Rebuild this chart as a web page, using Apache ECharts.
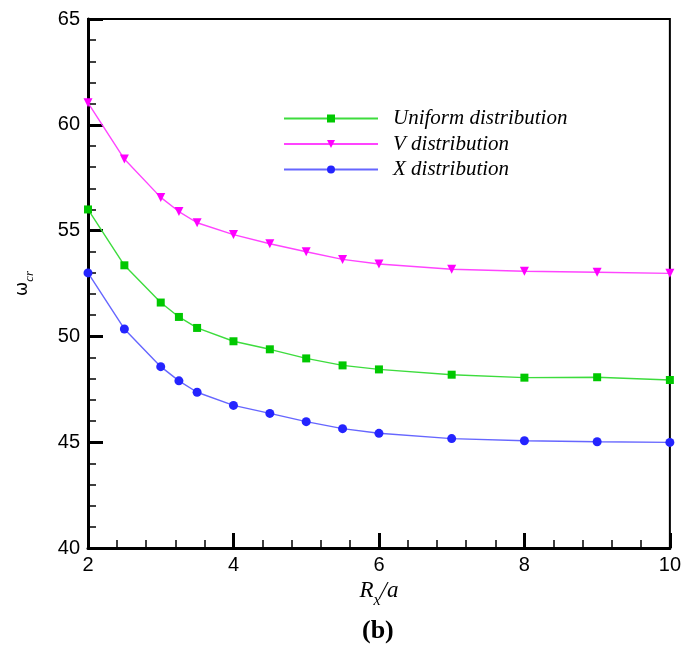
<!DOCTYPE html>
<html>
<head>
<meta charset="utf-8">
<script src="https://cdn.jsdelivr.net/npm/echarts@6/dist/echarts.min.js"></script>
<style>
html,body{margin:0;padding:0;background:#fff;}
#main{width:684px;height:653px;}
</style>
</head>
<body>
<div id="main"></div>
<script>
var xValues = [2, 2.5, 3, 3.25, 3.5, 4, 4.5, 5, 5.5, 6, 7, 8, 9, 10];
var uniformValues = [56.0, 53.36, 51.6, 50.92, 50.4, 49.77, 49.39, 48.96, 48.63, 48.44, 48.19, 48.05, 48.07, 47.94];
var vValues = [61.04, 58.38, 56.57, 55.9, 55.37, 54.81, 54.38, 54.0, 53.64, 53.42, 53.17, 53.08, 53.03, 52.98];
var xDistValues = [53.0, 50.35, 48.57, 47.9, 47.36, 46.74, 46.36, 45.97, 45.64, 45.42, 45.17, 45.07, 45.02, 44.99];
var seriesNames = ['Uniform distribution', 'V distribution', 'X distribution'];

function pairs(ys){ return xValues.map(function(x,i){ return [x, ys[i]]; }); }

var chart = echarts.init(document.getElementById('main'), null, {renderer:'canvas'});
var axisFont = 'Liberation Sans, Arial, sans-serif';
var serif = 'Liberation Serif, Times New Roman, serif';
chart.setOption({
  animation:false,
  backgroundColor:'#fff',
  grid:{left:88, top:19, right:12, bottom:105, show:true, borderColor:'#000', borderWidth:2, backgroundColor:'transparent'},
  legend:{
    orient:'vertical', left:278, top:103, itemWidth:94, itemHeight:10, itemGap:4.5,
    data:seriesNames,
    textStyle:{fontFamily:serif, fontStyle:'italic', fontSize:21, color:'#000', padding:[0,0,0,10]}
  },
  xAxis:{
    type:'value', min:2, max:10, interval:2,
    axisLine:{show:true, lineStyle:{color:'#000', width:3}},
    axisTick:{show:true, inside:true, length:15, lineStyle:{color:'#000', width:3}},
    minorTick:{show:true, splitNumber:5, length:8, lineStyle:{color:'#000', width:1.5}},
    splitLine:{show:false},
    axisLabel:{fontFamily:axisFont, fontSize:20, color:'#000', margin:7},
    name:'{r|R}{s|x}{a|/a}', nameLocation:'middle', nameGap:25,
    nameTextStyle:{rich:{
      r:{fontFamily:serif, fontStyle:'italic', fontSize:23, color:'#000', verticalAlign:'bottom', lineHeight:22},
      s:{fontFamily:serif, fontStyle:'italic', fontSize:16, color:'#000', verticalAlign:'bottom', lineHeight:14, padding:[0,0,-6,0]},
      a:{fontFamily:serif, fontStyle:'italic', fontSize:23, color:'#000', verticalAlign:'bottom', lineHeight:22}
    }}
  },
  yAxis:{
    type:'value', min:40, max:65, interval:5,
    axisLine:{show:true, lineStyle:{color:'#000', width:3}},
    axisTick:{show:true, inside:true, length:15, lineStyle:{color:'#000', width:3}},
    minorTick:{show:true, splitNumber:5, length:8, lineStyle:{color:'#000', width:1.5}},
    splitLine:{show:false},
    axisLabel:{fontFamily:axisFont, fontSize:20, color:'#000', margin:8},
    name:'{w|ω}{s|cr}', nameLocation:'middle', nameGap:57, nameRotate:90,
    nameTextStyle:{rich:{
      w:{fontFamily:'DejaVu Sans, sans-serif', fontSize:17, color:'#000', verticalAlign:'bottom', lineHeight:18},
      s:{fontFamily:serif, fontStyle:'italic', fontSize:13, color:'#000', verticalAlign:'bottom', lineHeight:12, padding:[0,0,-5,0]}
    }}
  },
  graphic:[{type:'text', left:362, top:618, style:{text:'(b)', fontFamily:serif, fontWeight:'bold', fontSize:26, fill:'#000'}}],
  series:[
    {name:seriesNames[0], type:'line', data:pairs(uniformValues), symbol:'rect', symbolSize:8,
     itemStyle:{color:'#00c800'}, lineStyle:{color:'#3ddc3d', width:1.4}, clip:false, z:3},
    {name:seriesNames[1], type:'line', data:pairs(vValues), symbol:'triangle', symbolRotate:180, symbolSize:9,
     itemStyle:{color:'#ff00ff'}, lineStyle:{color:'#ff44ff', width:1.4}, clip:false, z:3},
    {name:seriesNames[2], type:'line', data:pairs(xDistValues), symbol:'circle', symbolSize:9,
     itemStyle:{color:'#2424ff'}, lineStyle:{color:'#6666ff', width:1.4}, clip:false, z:3}
  ]
});
</script>
</body>
</html>
